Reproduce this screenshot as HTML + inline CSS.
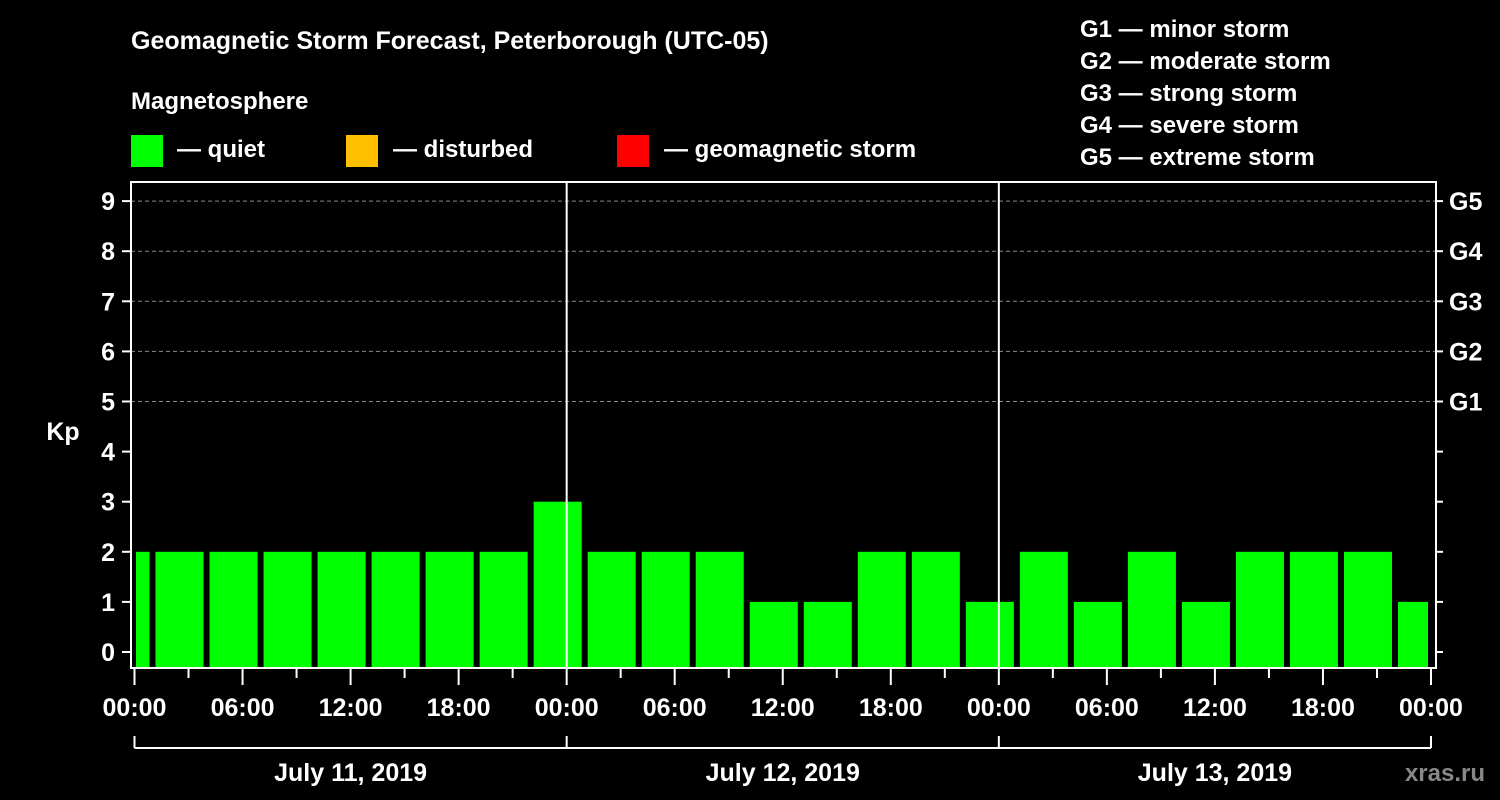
<!DOCTYPE html>
<html><head><meta charset="utf-8"><style>
html,body{margin:0;padding:0;background:#000;}
svg{display:block;font-family:"Liberation Sans",Arial,sans-serif;font-weight:bold;}
</style></head><body>
<svg id="chart" width="1500" height="800" viewBox="0 0 1500 800">
<text x="131" y="49" fill="#fff" font-size="25">Geomagnetic Storm Forecast, Peterborough (UTC-05)</text>
<text x="131" y="109" fill="#fff" font-size="24">Magnetosphere</text>
<g>
<rect x="131" y="135" width="32" height="32" fill="#00ff00"/>
<text x="177" y="157" fill="#fff" font-size="24">— quiet</text>
<rect x="346" y="135" width="32" height="32" fill="#ffc000"/>
<text x="393" y="157" fill="#fff" font-size="24">— disturbed</text>
<rect x="617" y="135" width="32" height="32" fill="#ff0000"/>
<text x="664" y="157" fill="#fff" font-size="24">— geomagnetic storm</text>
</g>
<g fill="#fff" font-size="24">
<text x="1080" y="37">G1 — minor storm</text>
<text x="1080" y="69">G2 — moderate storm</text>
<text x="1080" y="101">G3 — strong storm</text>
<text x="1080" y="133">G4 — severe storm</text>
<text x="1080" y="165">G5 — extreme storm</text>
</g>
<text x="63" y="440" fill="#fff" font-size="25" text-anchor="middle">Kp</text>
<text x="1485" y="781" fill="#888" font-size="24" text-anchor="end">xras.ru</text>
<g id="grid"></g><g id="bars"></g><g id="axes"></g>
</svg>
<script>
const kpValues=[2,2,2,2,2,2,2,2,3,2,2,2,1,1,2,2,1,2,1,2,1,2,2,2,1];
const barStartHours=[-2,1,4,7,10,13,16,19,22,25,28,31,34,37,40,43,46,49,52,55,58,61,64,67,70];
const yTicks=[0,1,2,3,4,5,6,7,8,9];
const gLabels=["G1","G2","G3","G4","G5"];
const gLevels=[5,6,7,8,9];
const xLabels=["00:00","06:00","12:00","18:00","00:00","06:00","12:00","18:00","00:00","06:00","12:00","18:00","00:00"];
const dayLabels=["July 11, 2019","July 12, 2019","July 13, 2019"];
const NS="http://www.w3.org/2000/svg";
const L=131,R=1436,T=182,B=668,X0=134.5,PXH=(1431-134.5)/72;
const x=h=>X0+h*PXH, y=k=>652-50.1*k;
function mk(t,a,p){const e=document.createElementNS(NS,t);for(const k in a)e.setAttribute(k,a[k]);p.appendChild(e);return e;}
const grid=document.getElementById('grid'),bars=document.getElementById('bars'),axes=document.getElementById('axes');
gLevels.forEach((k,i)=>{
 const l=mk('line',{x1:L,x2:R,y1:y(k),y2:y(k),stroke:'#888','stroke-dasharray':'4,3','stroke-width':1},grid);
 
 
 const t=mk('text',{x:1449,y:y(k)+9,fill:'#fff','font-size':25},axes);t.textContent=gLabels[i];
 
 
});
kpValues.forEach((v,i)=>{
 const h=barStartHours[i];
 let x1=Math.max(x(h)+3,L+5),x2=Math.min(x(h+3)-3,R-8);
 const c=v>=5?'#ff0000':(v>=4?'#ffc000':'#00ff00');
 const r=mk('rect',{x:x1,y:y(v),width:x2-x1,height:B-y(v),fill:c},bars);
 
 
});
const fr=mk('rect',{x:L,y:T,width:R-L,height:B-T,fill:'none',stroke:'#fff','stroke-width':2},axes);


[1,2].forEach(d=>{const l=mk('line',{x1:x(24*d),x2:x(24*d),y1:T,y2:B,stroke:'#fff','stroke-width':2},axes);
 
 });
yTicks.forEach(k=>{
 mk('line',{x1:122,x2:L,y1:y(k),y2:y(k),stroke:'#fff','stroke-width':2},axes);
 mk('line',{x1:R,x2:1443,y1:y(k),y2:y(k),stroke:'#fff','stroke-width':2},axes);
 const t=mk('text',{x:115,y:y(k)+9,fill:'#fff','font-size':25,'text-anchor':'end'},axes);t.textContent=k;
 
 
});
for(let h=0;h<=72;h+=3){mk('line',{x1:x(h),x2:x(h),y1:B,y2:h%6==0?685:678,stroke:'#fff','stroke-width':2},axes);}
xLabels.forEach((s,i)=>{const t=mk('text',{x:x(i*6),y:716,fill:'#fff','font-size':25,'text-anchor':'middle'},axes);t.textContent=s;
 
 });
mk('line',{x1:x(0),x2:x(72),y1:748,y2:748,stroke:'#fff','stroke-width':2},axes);
for(let d=0;d<=3;d++)mk('line',{x1:x(24*d),x2:x(24*d),y1:736,y2:748,stroke:'#fff','stroke-width':2},axes);
dayLabels.forEach((s,i)=>{const t=mk('text',{x:x(24*i+12),y:781,fill:'#fff','font-size':25,'text-anchor':'middle'},axes);t.textContent=s;
 
 });
</script>
</body></html>
